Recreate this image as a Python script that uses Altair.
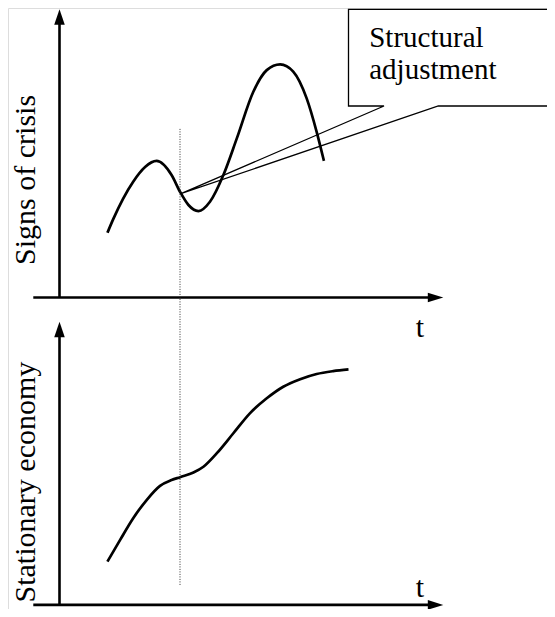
import altair as alt
import pandas as pd

# ---- data (t axis 0..10, value axis 0..10) ----
crisis_t = [1.25, 1.40, 1.92, 2.23, 2.53, 2.92, 3.14, 3.36, 3.62, 3.92, 4.27, 4.62, 5.05, 5.40, 5.75, 6.09, 6.44, 6.70, 6.89]
crisis_v = [2.25, 2.72, 4.02, 4.53, 4.74, 4.25, 3.67, 3.21, 3.00, 3.32, 4.25, 5.52, 7.14, 7.89, 8.09, 7.84, 6.91, 5.75, 4.74]

economy_t = [1.25, 1.58, 1.92, 2.27, 2.62, 2.92, 3.14, 3.49, 3.75, 4.10, 4.53, 4.96, 5.40, 5.83, 6.27, 6.70, 7.13, 7.53]
economy_v = [1.70, 2.45, 3.20, 3.83, 4.32, 4.52, 4.62, 4.78, 4.98, 5.45, 6.14, 6.83, 7.35, 7.75, 8.01, 8.19, 8.29, 8.35]

event_t = 3.14
callout_from = (3.18, 3.61)
callout_box_x = [7.53, 13.0]
callout_box_y = [6.645, 10.0]
callout_gap_x = [8.455, 9.87]
callout_text = ["Structural", "adjustment"]
callout_text_x = 8.07
callout_text_y = [8.70, 7.58]

top_label = "Signs of crisis"
bottom_label = "Stationary economy"
time_label = "t"

# axis baselines of the two panels (bottom one raised slightly so it fits the page)
top_axis_base = 0.0
bottom_axis_base = 0.2

FONT = "Liberation Serif"
X = alt.Scale(domain=[0, 10], range=[51.5, 435.3], nice=False, zero=False)
YT = alt.Scale(domain=[0, 10], range=[289.5, 1.3], nice=False, zero=False)
YB = alt.Scale(domain=[0, 10], range=[602.7, 313.7], nice=False, zero=False)


def xenc(f="x"):
    return alt.X(f"{f}:Q", scale=X, axis=None)


def yenc(scale, f="y"):
    return alt.Y(f"{f}:Q", scale=scale, axis=None)


layers = []

for scale, base, (ts, vs) in [
    (YT, top_axis_base, (crisis_t, crisis_v)),
    (YB, bottom_axis_base, (economy_t, economy_v)),
]:
    # axes lines
    ax = pd.DataFrame({"x": [-0.683, 0.0], "x2": [9.7, 0.0], "y": [base, base], "y2": [base, 9.5]})
    layers.append(
        alt.Chart(ax).mark_rule(color="black", strokeWidth=2.6).encode(
            x=xenc(), x2="x2:Q", y=yenc(scale), y2="y2:Q"
        )
    )
    # arrow heads
    heads = pd.DataFrame({"x": [10.0], "y": [base]})
    layers.append(
        alt.Chart(heads).mark_point(
            shape="M0,0L-2,-0.62L-2,0.62Z", filled=True, size=240, color="black", opacity=1, strokeWidth=0
        ).encode(x=xenc(), y=yenc(scale))
    )
    heads2 = pd.DataFrame({"x": [0.0], "y": [10.0]})
    layers.append(
        alt.Chart(heads2).mark_point(
            shape="M0,0L-0.68,2L0.68,2Z", filled=True, size=240, color="black", opacity=1, strokeWidth=0
        ).encode(x=xenc(), y=yenc(scale))
    )
    # curve
    cdf = pd.DataFrame({"x": ts, "y": vs})
    layers.append(
        alt.Chart(cdf).mark_line(color="black", strokeWidth=2.7, interpolate="monotone").encode(
            x=xenc(), y=yenc(scale)
        )
    )

# time labels
tl_top = pd.DataFrame({"x": [9.39], "y": [-1.38], "label": [time_label]})
layers.append(
    alt.Chart(tl_top).mark_text(font=FONT, fontSize=30, align="center", baseline="alphabetic", color="black").encode(
        x=xenc(), y=yenc(YT), text="label:N"
    )
)
tl_bot = pd.DataFrame({"x": [9.39], "y": [0.47], "label": [time_label]})
layers.append(
    alt.Chart(tl_bot).mark_text(font=FONT, fontSize=30, align="center", baseline="alphabetic", color="black").encode(
        x=xenc(), y=yenc(YB), text="label:N"
    )
)

# vertical axis titles
yl_top = pd.DataFrame({"x": [-0.63], "y": [4.08], "label": [top_label]})
layers.append(
    alt.Chart(yl_top).mark_text(font=FONT, fontSize=30, angle=270, align="center", baseline="alphabetic", color="black").encode(
        x=xenc(), y=yenc(YT), text="label:N"
    )
)
yl_bot = pd.DataFrame({"x": [-0.63], "y": [4.45], "label": [bottom_label]})
layers.append(
    alt.Chart(yl_bot).mark_text(font=FONT, fontSize=30, angle=270, align="center", baseline="alphabetic", color="black").encode(
        x=xenc(), y=yenc(YB), text="label:N"
    )
)

# event line (dotted), spanning both panels
ev = pd.DataFrame({"x": [event_t], "y": [5.85], "y2": [-10.0]})
layers.append(
    alt.Chart(ev).mark_rule(color="#333333", strokeWidth=1, strokeDash=[1, 1.5]).encode(
        x=xenc(), y=yenc(YT), y2="y2:Q"
    )
)

# callout shape
cx = [callout_from[0], callout_gap_x[0], callout_box_x[0], callout_box_x[0], callout_box_x[1], callout_box_x[1], callout_gap_x[1], callout_from[0]]
cy = [callout_from[1], callout_box_y[0], callout_box_y[0], callout_box_y[1], callout_box_y[1], callout_box_y[0], callout_box_y[0], callout_from[1]]
cdf = pd.DataFrame({"x": cx, "y": cy, "o": list(range(len(cx)))})
layers.append(
    alt.Chart(cdf).mark_line(color="black", strokeWidth=1.3, interpolate="linear").encode(
        x=xenc(), y=yenc(YT), order="o:Q"
    )
)
ctext = pd.DataFrame({"x": [callout_text_x] * 2, "y": callout_text_y, "label": callout_text})
layers.append(
    alt.Chart(ctext).mark_text(font=FONT, fontSize=29, align="left", baseline="alphabetic", color="black").encode(
        x=xenc(), y=yenc(YT), text="label:N"
    )
)

chart = (
    alt.layer(*layers)
    .resolve_scale(y="independent")
    .properties(
        width=539,
        height=601,
        padding=0,
        autosize=alt.AutoSizeParams(type="none"),
    )
    .configure_view(stroke=None)
    .configure(background="white")
)

chart.save("out.html", embed_options={"renderer": "svg", "actions": False})
